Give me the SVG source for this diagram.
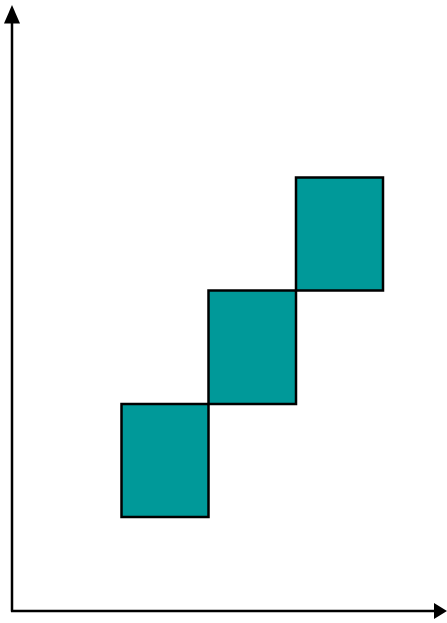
<svg xmlns="http://www.w3.org/2000/svg" width="447" height="623" viewBox="0 0 447 623">
<style>
.box{fill:#009999;stroke:#000;stroke-width:2.5}
.axis{stroke:#000;stroke-width:2.5;fill:none}
.head{fill:#000}
</style>
<rect width="447" height="623" fill="#fff"/>
<g id="connectors">
<path class="axis" d="M12,611.5 V22"/>
<polygon class="head" points="12,5 4,23.5 20,23.5"/>
<path class="axis" d="M11,611 H435"/>
<polygon class="head" points="447,611 434,603 434,619"/>
</g>
<g id="box1"><rect class="box" x="121.5" y="404" width="87" height="113"/></g>
<g id="box2"><rect class="box" x="208.5" y="290.5" width="87.5" height="113.5"/></g>
<g id="box3"><rect class="box" x="296" y="177.5" width="87" height="113"/></g>
</svg>
